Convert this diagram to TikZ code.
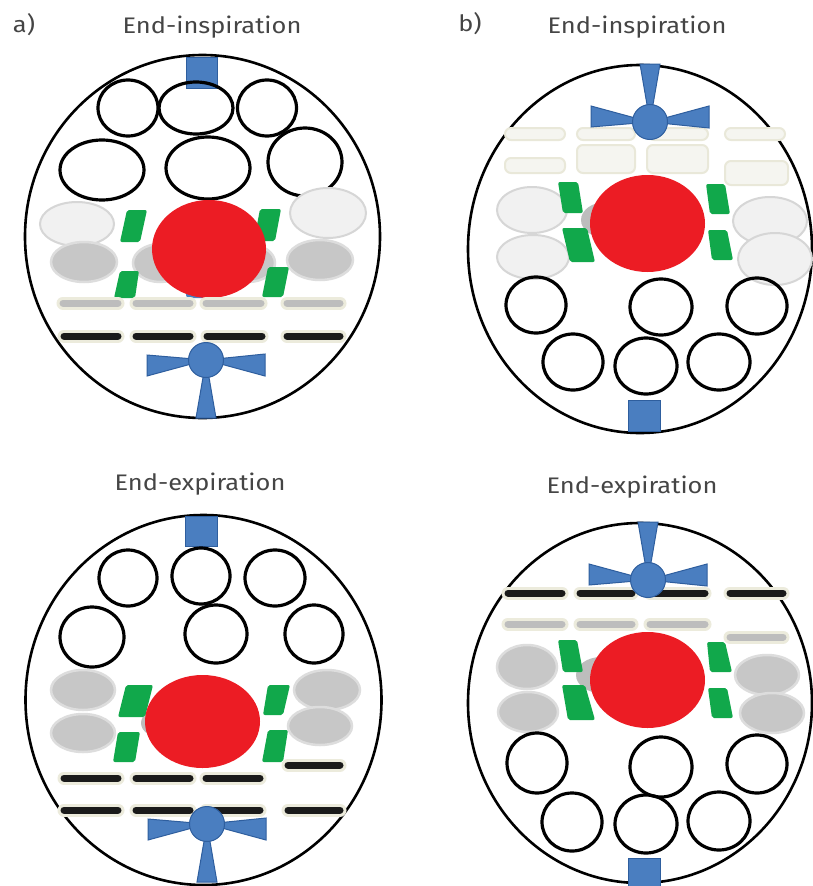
\documentclass[tikz,border=0pt]{standalone}
\usepackage{fontspec}
\setmainfont{Fira Sans}
\definecolor{heartRed}{HTML}{EC1C24}
\definecolor{boxGreen}{HTML}{11A84B}
\definecolor{probeBlue}{HTML}{4A7EC0}
\definecolor{probeEdge}{HTML}{2E5E9E}
\definecolor{cellLight}{HTML}{F1F1F1}
\definecolor{cellLightEdge}{HTML}{D6D6D6}
\definecolor{cellGray}{HTML}{C7C7C7}
\definecolor{cellGrayEdge}{HTML}{DDDDDD}
\definecolor{barGray}{HTML}{BDBDBD}
\definecolor{barBlack}{HTML}{1A1A1A}
\definecolor{haloCream}{HTML}{ECEBDC}
\definecolor{creamFill}{HTML}{F5F5F0}
\definecolor{creamEdge}{HTML}{E9E8D9}
\definecolor{labelGray}{HTML}{454545}
\newcommand{\paneltitle}[1]{\scalebox{1.13}[1]{#1}}
\begin{document}
\begin{tikzpicture}[x=1pt,y=-1pt,
  outline/.style={draw=black, line width=2.6pt},
  airway/.style={draw=black, line width=3.2pt},
  lightcell/.style={fill=cellLight, draw=cellLightEdge, line width=2pt},
  graycell/.style={fill=cellGray, draw=cellGrayEdge, line width=2.5pt},
  hiddencell/.style={fill=cellGray!95!black},
  heart/.style={fill=heartRed},
  greenbox/.style={fill=boxGreen, rounded corners=2pt},
  bluebox/.style={fill=probeBlue, draw=probeEdge, line width=1pt},
  creambar/.style={fill=creamFill, draw=creamEdge, line width=2pt, rounded corners=6pt},
  graybar/.style={draw=barGray, line width=7pt, line cap=round,
    preaction={draw=haloCream, line width=13pt, line cap=round}},
  blackbar/.style={draw=barBlack, line width=7pt, line cap=round,
    preaction={draw=haloCream, line width=13pt, line cap=round}},
  title/.style={text=labelGray, font=\fontsize{22.5}{25}\selectfont, inner sep=0pt},
  bowtie/.pic={
    \filldraw[bluebox] (0,0) -- (-59,-5) -- (-59,16) -- cycle;
    \filldraw[bluebox] (0,0) -- (59,-6) -- (59,16) -- cycle;
    \filldraw[bluebox] (0,0) -- (-10,58) -- (10,58) -- cycle;
    \filldraw[bluebox] (0,0) circle [radius=17.5pt];
  }]
\useasboundingbox (0,0) rectangle (813,886);
\fill[white] (0,0) rectangle (813,886);

% ---------- labels ----------
\node[title] (la) at (24,25) {\paneltitle{a)}};
\node[title] (lb) at (470,24) {\paneltitle{b)}};
\node[title] (tai) at (212,27) {\paneltitle{End-inspiration}};
\node[title] (tbi) at (637,27) {\paneltitle{End-inspiration}};
\node[title] (tae) at (200,484) {\paneltitle{End-expiration}};
\node[title] (tbe) at (632,487) {\paneltitle{End-expiration}};

% ---------- panel a, end-inspiration ----------
\draw[outline] (202.5,236.5) ellipse [x radius=177.5pt, y radius=181.5pt];
\filldraw[bluebox] (186,57) rectangle (217,88);
\foreach \cx/\cy/\rx/\ry in {128/108/30/28, 196/108/37/26, 267/108/29.5/28,
    102/170/42/30, 208/168/42/31, 305/162/37/34}
  \draw[airway] (\cx,\cy) ellipse [x radius=\rx pt, y radius=\ry pt];
\draw[lightcell] (77,224) ellipse [x radius=37pt, y radius=22pt];
\draw[lightcell] (328,213) ellipse [x radius=38pt, y radius=25pt];
\draw[graycell] (84,262) ellipse [x radius=33pt, y radius=20pt];
\draw[graycell] (160,263) ellipse [x radius=27pt, y radius=19pt];
\draw[graycell] (248,263) ellipse [x radius=27pt, y radius=19pt];
\draw[graycell] (320,260) ellipse [x radius=33pt, y radius=20pt];
\fill[probeBlue, rounded corners=3pt] (186,282) rectangle (206,298);
\fill[greenbox] (127,210) -- (147,210) -- (140,242) -- (120,242) -- cycle;
\fill[greenbox] (120,271) -- (139,271) -- (135,298) -- (114,298) -- cycle;
\fill[greenbox] (260,209) -- (281,209) -- (275,241) -- (254,241) -- cycle;
\fill[greenbox] (268,267) -- (289,267) -- (283,297) -- (262,297) -- cycle;
\fill[heart] (209,249) ellipse [x radius=57pt, y radius=49pt];
\foreach \xa/\xb in {63/118, 136/190, 206/261, 287/340}
  \draw[graybar] (\xa,303) -- (\xb,303);
\foreach \xa/\xb in {64/118, 136/190, 207/262, 287/340}
  \draw[blackbar] (\xa,336) -- (\xb,336);
\pic at (206,360) {bowtie};

% ---------- panel b, end-inspiration ----------
\draw[outline] (640,249) ellipse [x radius=172pt, y radius=184pt];
\filldraw[bluebox] (628,400) rectangle (660,431);
\draw[creambar] (505,128) rectangle (565,140);
\draw[creambar] (577,128) rectangle (635,140);
\draw[creambar] (648,128) rectangle (708,140);
\draw[creambar] (725,128) rectangle (785,140);
\draw[creambar] (505,158) rectangle (565,173);
\draw[creambar] (577,145) rectangle (635,173);
\draw[creambar] (647,145) rectangle (708,173);
\draw[creambar] (725,161) rectangle (788,185);
\draw[lightcell] (532,210) ellipse [x radius=35pt, y radius=23pt];
\draw[lightcell] (533,257) ellipse [x radius=36pt, y radius=22pt];
\draw[lightcell] (770,221) ellipse [x radius=37pt, y radius=24pt];
\draw[lightcell] (775,259) ellipse [x radius=37pt, y radius=26pt];
\fill[hiddencell] (606,220) ellipse [x radius=25pt, y radius=18pt];
\fill[greenbox] (558,182) -- (578,182) -- (583,213) -- (563,213) -- cycle;
\fill[greenbox] (562,228) -- (587,228) -- (595,262) -- (570,262) -- cycle;
\fill[greenbox] (706,184) -- (725,184) -- (730,214) -- (710,214) -- cycle;
\fill[greenbox] (708,230) -- (727,230) -- (733,260) -- (712,260) -- cycle;
\fill[heart] (647.5,223.5) ellipse [x radius=57.5pt, y radius=48.5pt];
\foreach \cx/\cy/\rx/\ry in {536/305/30/28, 661/307/31/28, 757/306/30/28,
    573/362/30/28, 646/366/31/28, 719/362/31/28}
  \draw[airway] (\cx,\cy) ellipse [x radius=\rx pt, y radius=\ry pt];
\pic[yscale=-1] at (650,122) {bowtie};

% ---------- panel a, end-expiration ----------
\draw[outline] (203.5,700) ellipse [x radius=178pt, y radius=185pt];
\filldraw[bluebox] (185,516) rectangle (217,546);
\foreach \cx/\cy/\rx/\ry in {128/578/29/28, 201/576/29/28, 275/578/30/28,
    92/637/32/30, 216/634/31/29, 314/634/29/29}
  \draw[airway] (\cx,\cy) ellipse [x radius=\rx pt, y radius=\ry pt];
\draw[graycell] (83,690) ellipse [x radius=32pt, y radius=20pt];
\draw[graycell] (83,733) ellipse [x radius=32pt, y radius=19pt];
\draw[graycell] (327,690) ellipse [x radius=33pt, y radius=20pt];
\draw[graycell] (320,726) ellipse [x radius=32pt, y radius=19pt];
\fill[hiddencell] (166,723) ellipse [x radius=25pt, y radius=16pt];
\fill[greenbox] (126,685) -- (153,685) -- (145,717) -- (118,717) -- cycle;
\fill[greenbox] (118,732) -- (140,732) -- (135,762) -- (113,762) -- cycle;
\fill[greenbox] (268,685) -- (290,685) -- (283,715) -- (263,715) -- cycle;
\fill[greenbox] (268,730) -- (288,730) -- (283,762) -- (262,762) -- cycle;
\fill[heart] (202.5,721.5) ellipse [x radius=57.5pt, y radius=46.5pt];
\foreach \xa/\xb in {64/118, 136/190, 206/260}
  \draw[blackbar] (\xa,778) -- (\xb,778);
\draw[blackbar] (288,765) -- (340,765);
\foreach \xa/\xb in {64/118, 136/190, 206/260, 288/340}
  \draw[blackbar] (\xa,810) -- (\xb,810);
\pic at (207,824) {bowtie};

% ---------- panel b, end-expiration ----------
\draw[outline] (640,703) ellipse [x radius=172pt, y radius=180pt];
\filldraw[bluebox] (628,858) rectangle (660,886);
\foreach \xa/\xb in {508/562, 580/632, 650/705, 730/783}
  \draw[blackbar] (\xa,593) -- (\xb,593);
\foreach \xa/\xb in {508/562, 580/632, 650/705}
  \draw[graybar] (\xa,624) -- (\xb,624);
\draw[graybar] (730,637) -- (783,637);
\draw[graycell] (527,667) ellipse [x radius=30pt, y radius=22pt];
\draw[graycell] (528,712) ellipse [x radius=30pt, y radius=20pt];
\draw[graycell] (767,675) ellipse [x radius=32pt, y radius=20pt];
\draw[graycell] (772,713) ellipse [x radius=32pt, y radius=20pt];
\fill[hiddencell] (601,675) ellipse [x radius=25pt, y radius=18pt];
\fill[greenbox] (558,640) -- (577,640) -- (583,672) -- (563,672) -- cycle;
\fill[greenbox] (562,685) -- (585,685) -- (595,720) -- (568,720) -- cycle;
\fill[greenbox] (707,642) -- (725,642) -- (732,672) -- (710,672) -- cycle;
\fill[greenbox] (708,688) -- (727,688) -- (733,718) -- (712,718) -- cycle;
\fill[heart] (647.5,680) ellipse [x radius=57.5pt, y radius=48pt];
\foreach \cx/\cy/\rx/\ry in {537/763/30/30, 661/767/31/30, 757/764/30/29,
    572/822/30/29, 646/824/31/29, 719/821/31/29}
  \draw[airway] (\cx,\cy) ellipse [x radius=\rx pt, y radius=\ry pt];
\pic[yscale=-1] at (648,580) {bowtie};
\end{tikzpicture}
\end{document}
